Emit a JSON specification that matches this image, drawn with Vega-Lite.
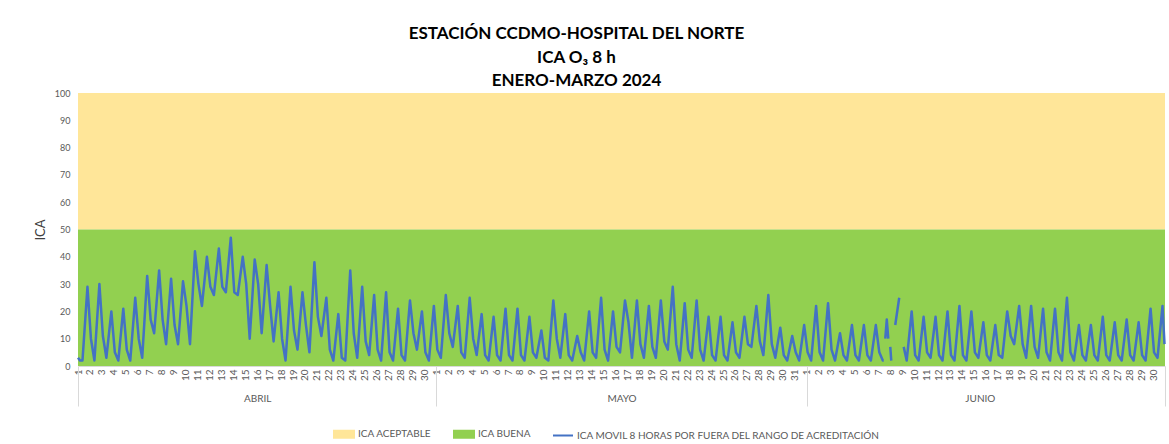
{
  "$schema": "https://vega.github.io/schema/vega-lite/v6.json",
  "width": 1087,
  "height": 273,
  "autosize": {"type": "none"},
  "padding": {"left": 78, "top": 93, "right": 4, "bottom": 78},
  "background": "#ffffff",
  "config": {
    "view": {"stroke": null},
    "axisY": {
      "values": [0, 10, 20, 30, 40, 50, 60, 70, 80, 90, 100], "labelOverlap": false,
      "ticks": false, "domain": false, "grid": false,
      "labelFont": "Lato", "labelFontSize": 9, "labelColor": "#595959", "labelPadding": 8,
      "titleFont": "Lato", "titleFontSize": 13, "titleFontWeight": "normal",
      "titleColor": "#404040", "titlePadding": 7
    }
  },
  "title": {
    "text": ["ESTACIÓN CCDMO-HOSPITAL DEL NORTE", "ICA O₃ 8 h", "ENERO-MARZO 2024"],
    "font": "Lato", "fontSize": 17, "fontWeight": "bold", "color": "#000000",
    "lineHeight": 23.5, "anchor": "middle", "dx": -45, "offset": -1
  },
  "datasets": {
    "bandas": [
      {"banda": "ICA ACEPTABLE", "y0": 50, "y1": 100},
      {"banda": "ICA BUENA", "y0": 0, "y1": 50}
    ],
    "meses": [
      {"inicio": "2024-04-01T00:00", "centro": "2024-04-16T00:00"},
      {"inicio": "2024-05-01T00:00", "centro": "2024-05-16T12:00"},
      {"inicio": "2024-06-01T00:00", "centro": "2024-06-15T12:00"}
    ],
    "ica": [
      {"t":"2024-04-01T00:00","v":3},{"t":"2024-04-01T04:00","v":2},{"t":"2024-04-01T09:00","v":2},{"t":"2024-04-01T19:00","v":29},
      {"t":"2024-04-02T02:00","v":10},{"t":"2024-04-02T09:00","v":2},{"t":"2024-04-02T19:00","v":30},
      {"t":"2024-04-03T02:00","v":11},{"t":"2024-04-03T09:00","v":3},{"t":"2024-04-03T19:00","v":20},
      {"t":"2024-04-04T02:00","v":5},{"t":"2024-04-04T09:00","v":2},{"t":"2024-04-04T19:00","v":21},
      {"t":"2024-04-05T02:00","v":6},{"t":"2024-04-05T09:00","v":2},{"t":"2024-04-05T19:00","v":25},
      {"t":"2024-04-06T02:00","v":10},{"t":"2024-04-06T09:00","v":3},{"t":"2024-04-06T19:00","v":33},
      {"t":"2024-04-07T02:00","v":17},{"t":"2024-04-07T09:00","v":12},{"t":"2024-04-07T19:00","v":35},
      {"t":"2024-04-08T02:00","v":17},{"t":"2024-04-08T09:00","v":8},{"t":"2024-04-08T19:00","v":32},
      {"t":"2024-04-09T02:00","v":15},{"t":"2024-04-09T09:00","v":8},{"t":"2024-04-09T19:00","v":31},
      {"t":"2024-04-10T02:00","v":22},{"t":"2024-04-10T09:00","v":8},{"t":"2024-04-10T19:00","v":42},
      {"t":"2024-04-11T02:00","v":30},{"t":"2024-04-11T09:00","v":22},{"t":"2024-04-11T19:00","v":40},
      {"t":"2024-04-12T02:00","v":29},{"t":"2024-04-12T09:00","v":26},{"t":"2024-04-12T19:00","v":43},
      {"t":"2024-04-13T02:00","v":29},{"t":"2024-04-13T09:00","v":27},{"t":"2024-04-13T19:00","v":47},
      {"t":"2024-04-14T02:00","v":27},{"t":"2024-04-14T09:00","v":26},{"t":"2024-04-14T19:00","v":40},
      {"t":"2024-04-15T02:00","v":30},{"t":"2024-04-15T09:00","v":10},{"t":"2024-04-15T19:00","v":39},
      {"t":"2024-04-16T02:00","v":30},{"t":"2024-04-16T09:00","v":12},{"t":"2024-04-16T19:00","v":37},
      {"t":"2024-04-17T02:00","v":22},{"t":"2024-04-17T09:00","v":9},{"t":"2024-04-17T19:00","v":27},
      {"t":"2024-04-18T02:00","v":10},{"t":"2024-04-18T09:00","v":2},{"t":"2024-04-18T19:00","v":29},
      {"t":"2024-04-19T02:00","v":13},{"t":"2024-04-19T09:00","v":6},{"t":"2024-04-19T19:00","v":27},
      {"t":"2024-04-20T02:00","v":15},{"t":"2024-04-20T09:00","v":5},{"t":"2024-04-20T19:00","v":38},
      {"t":"2024-04-21T02:00","v":18},{"t":"2024-04-21T09:00","v":11},{"t":"2024-04-21T19:00","v":25},
      {"t":"2024-04-22T02:00","v":6},{"t":"2024-04-22T09:00","v":2},{"t":"2024-04-22T19:00","v":19},
      {"t":"2024-04-23T02:00","v":3},{"t":"2024-04-23T09:00","v":2},{"t":"2024-04-23T19:00","v":35},
      {"t":"2024-04-24T02:00","v":12},{"t":"2024-04-24T09:00","v":3},{"t":"2024-04-24T19:00","v":29},
      {"t":"2024-04-25T02:00","v":9},{"t":"2024-04-25T09:00","v":4},{"t":"2024-04-25T19:00","v":26},
      {"t":"2024-04-26T02:00","v":6},{"t":"2024-04-26T09:00","v":2},{"t":"2024-04-26T19:00","v":27},
      {"t":"2024-04-27T02:00","v":5},{"t":"2024-04-27T09:00","v":2},{"t":"2024-04-27T19:00","v":21},
      {"t":"2024-04-28T02:00","v":4},{"t":"2024-04-28T09:00","v":2},{"t":"2024-04-28T19:00","v":24},
      {"t":"2024-04-29T02:00","v":12},{"t":"2024-04-29T09:00","v":6},{"t":"2024-04-29T19:00","v":20},
      {"t":"2024-04-30T02:00","v":5},{"t":"2024-04-30T09:00","v":2},{"t":"2024-04-30T19:00","v":22},
      {"t":"2024-05-01T02:00","v":6},{"t":"2024-05-01T09:00","v":3},{"t":"2024-05-01T19:00","v":26},
      {"t":"2024-05-02T02:00","v":12},{"t":"2024-05-02T09:00","v":7},{"t":"2024-05-02T19:00","v":22},
      {"t":"2024-05-03T02:00","v":5},{"t":"2024-05-03T09:00","v":3},{"t":"2024-05-03T19:00","v":25},
      {"t":"2024-05-04T02:00","v":10},{"t":"2024-05-04T09:00","v":4},{"t":"2024-05-04T19:00","v":19},
      {"t":"2024-05-05T02:00","v":4},{"t":"2024-05-05T09:00","v":2},{"t":"2024-05-05T19:00","v":18},
      {"t":"2024-05-06T02:00","v":4},{"t":"2024-05-06T09:00","v":2},{"t":"2024-05-06T19:00","v":21},
      {"t":"2024-05-07T02:00","v":4},{"t":"2024-05-07T09:00","v":2},{"t":"2024-05-07T19:00","v":21},
      {"t":"2024-05-08T02:00","v":4},{"t":"2024-05-08T09:00","v":2},{"t":"2024-05-08T19:00","v":18},
      {"t":"2024-05-09T02:00","v":5},{"t":"2024-05-09T09:00","v":3},{"t":"2024-05-09T19:00","v":13},
      {"t":"2024-05-10T02:00","v":3},{"t":"2024-05-10T09:00","v":2},{"t":"2024-05-10T19:00","v":24},
      {"t":"2024-05-11T02:00","v":10},{"t":"2024-05-11T09:00","v":3},{"t":"2024-05-11T19:00","v":19},
      {"t":"2024-05-12T02:00","v":4},{"t":"2024-05-12T09:00","v":2},{"t":"2024-05-12T19:00","v":11},
      {"t":"2024-05-13T02:00","v":5},{"t":"2024-05-13T09:00","v":2},{"t":"2024-05-13T19:00","v":20},
      {"t":"2024-05-14T02:00","v":5},{"t":"2024-05-14T09:00","v":3},{"t":"2024-05-14T19:00","v":25},
      {"t":"2024-05-15T02:00","v":6},{"t":"2024-05-15T09:00","v":2},{"t":"2024-05-15T19:00","v":20},
      {"t":"2024-05-16T02:00","v":7},{"t":"2024-05-16T09:00","v":5},{"t":"2024-05-16T19:00","v":24},
      {"t":"2024-05-17T02:00","v":16},{"t":"2024-05-17T09:00","v":3},{"t":"2024-05-17T19:00","v":24},
      {"t":"2024-05-18T02:00","v":8},{"t":"2024-05-18T09:00","v":3},{"t":"2024-05-18T19:00","v":22},
      {"t":"2024-05-19T02:00","v":7},{"t":"2024-05-19T09:00","v":3},{"t":"2024-05-19T19:00","v":24},
      {"t":"2024-05-20T02:00","v":9},{"t":"2024-05-20T09:00","v":6},{"t":"2024-05-20T19:00","v":29},
      {"t":"2024-05-21T02:00","v":8},{"t":"2024-05-21T09:00","v":2},{"t":"2024-05-21T19:00","v":23},
      {"t":"2024-05-22T02:00","v":6},{"t":"2024-05-22T09:00","v":3},{"t":"2024-05-22T19:00","v":24},
      {"t":"2024-05-23T02:00","v":6},{"t":"2024-05-23T09:00","v":2},{"t":"2024-05-23T19:00","v":18},
      {"t":"2024-05-24T02:00","v":4},{"t":"2024-05-24T09:00","v":2},{"t":"2024-05-24T19:00","v":18},
      {"t":"2024-05-25T02:00","v":4},{"t":"2024-05-25T09:00","v":2},{"t":"2024-05-25T19:00","v":16},
      {"t":"2024-05-26T02:00","v":5},{"t":"2024-05-26T09:00","v":3},{"t":"2024-05-26T19:00","v":18},
      {"t":"2024-05-27T02:00","v":8},{"t":"2024-05-27T09:00","v":7},{"t":"2024-05-27T19:00","v":22},
      {"t":"2024-05-28T02:00","v":9},{"t":"2024-05-28T09:00","v":4},{"t":"2024-05-28T19:00","v":26},
      {"t":"2024-05-29T02:00","v":8},{"t":"2024-05-29T09:00","v":3},{"t":"2024-05-29T19:00","v":14},
      {"t":"2024-05-30T02:00","v":4},{"t":"2024-05-30T09:00","v":2},{"t":"2024-05-30T19:00","v":11},
      {"t":"2024-05-31T02:00","v":5},{"t":"2024-05-31T09:00","v":2},{"t":"2024-05-31T19:00","v":15},
      {"t":"2024-06-01T02:00","v":5},{"t":"2024-06-01T09:00","v":2},{"t":"2024-06-01T19:00","v":22},
      {"t":"2024-06-02T02:00","v":5},{"t":"2024-06-02T09:00","v":2},{"t":"2024-06-02T19:00","v":23},
      {"t":"2024-06-03T02:00","v":6},{"t":"2024-06-03T09:00","v":2},{"t":"2024-06-03T19:00","v":12},
      {"t":"2024-06-04T02:00","v":4},{"t":"2024-06-04T09:00","v":2},{"t":"2024-06-04T19:00","v":15},
      {"t":"2024-06-05T02:00","v":4},{"t":"2024-06-05T09:00","v":2},{"t":"2024-06-05T19:00","v":15},
      {"t":"2024-06-06T02:00","v":4},{"t":"2024-06-06T09:00","v":2},{"t":"2024-06-06T19:00","v":15},
      {"t":"2024-06-07T02:00","v":5},{"t":"2024-06-07T09:00","v":2},{"t":"2024-06-07T11:00","v":2},{"t":"2024-06-07T12:00","v":null},
      {"t":"2024-06-07T14:00","v":10},{"t":"2024-06-07T17:00","v":17},{"t":"2024-06-07T20:00","v":10},{"t":"2024-06-07T21:00","v":null},
      {"t":"2024-06-08T00:00","v":7},{"t":"2024-06-08T02:00","v":2},{"t":"2024-06-08T03:00","v":null},
      {"t":"2024-06-08T10:00","v":15},{"t":"2024-06-08T18:00","v":25},{"t":"2024-06-08T19:00","v":null},
      {"t":"2024-06-09T03:00","v":7},{"t":"2024-06-09T09:00","v":2},{"t":"2024-06-09T19:00","v":20},
      {"t":"2024-06-10T02:00","v":4},{"t":"2024-06-10T09:00","v":2},{"t":"2024-06-10T19:00","v":18},
      {"t":"2024-06-11T02:00","v":5},{"t":"2024-06-11T09:00","v":3},{"t":"2024-06-11T19:00","v":18},
      {"t":"2024-06-12T02:00","v":4},{"t":"2024-06-12T09:00","v":2},{"t":"2024-06-12T19:00","v":20},
      {"t":"2024-06-13T02:00","v":4},{"t":"2024-06-13T09:00","v":2},{"t":"2024-06-13T19:00","v":22},
      {"t":"2024-06-14T02:00","v":4},{"t":"2024-06-14T09:00","v":2},{"t":"2024-06-14T19:00","v":20},
      {"t":"2024-06-15T02:00","v":5},{"t":"2024-06-15T09:00","v":3},{"t":"2024-06-15T19:00","v":16},
      {"t":"2024-06-16T02:00","v":4},{"t":"2024-06-16T09:00","v":2},{"t":"2024-06-16T19:00","v":15},
      {"t":"2024-06-17T02:00","v":4},{"t":"2024-06-17T09:00","v":3},{"t":"2024-06-17T19:00","v":20},
      {"t":"2024-06-18T02:00","v":11},{"t":"2024-06-18T09:00","v":8},{"t":"2024-06-18T19:00","v":22},
      {"t":"2024-06-19T02:00","v":8},{"t":"2024-06-19T09:00","v":3},{"t":"2024-06-19T19:00","v":22},
      {"t":"2024-06-20T02:00","v":7},{"t":"2024-06-20T09:00","v":3},{"t":"2024-06-20T19:00","v":21},
      {"t":"2024-06-21T02:00","v":5},{"t":"2024-06-21T09:00","v":2},{"t":"2024-06-21T19:00","v":21},
      {"t":"2024-06-22T02:00","v":5},{"t":"2024-06-22T09:00","v":2},{"t":"2024-06-22T19:00","v":25},
      {"t":"2024-06-23T02:00","v":5},{"t":"2024-06-23T09:00","v":2},{"t":"2024-06-23T19:00","v":15},
      {"t":"2024-06-24T02:00","v":4},{"t":"2024-06-24T09:00","v":2},{"t":"2024-06-24T19:00","v":15},
      {"t":"2024-06-25T02:00","v":4},{"t":"2024-06-25T09:00","v":2},{"t":"2024-06-25T19:00","v":18},
      {"t":"2024-06-26T02:00","v":4},{"t":"2024-06-26T09:00","v":2},{"t":"2024-06-26T19:00","v":16},
      {"t":"2024-06-27T02:00","v":4},{"t":"2024-06-27T09:00","v":2},{"t":"2024-06-27T19:00","v":17},
      {"t":"2024-06-28T02:00","v":4},{"t":"2024-06-28T09:00","v":2},{"t":"2024-06-28T19:00","v":16},
      {"t":"2024-06-29T02:00","v":4},{"t":"2024-06-29T09:00","v":2},{"t":"2024-06-29T19:00","v":21},
      {"t":"2024-06-30T02:00","v":5},{"t":"2024-06-30T09:00","v":3},{"t":"2024-06-30T19:00","v":22},{"t":"2024-06-30T23:00","v":8}
    ]
  },
  "layer": [
    {
      "data": {"name": "bandas"},
      "mark": {"type": "rect"},
      "encoding": {
        "y": {
          "field": "y0", "type": "quantitative",
          "scale": {"domain": [0, 100], "nice": false},
          "axis": {"title": "ICA", "values": [0, 10, 20, 30, 40, 50, 60, 70, 80, 90, 100], "labelOverlap": false}
        },
        "y2": {"field": "y1"},
        "color": {
          "field": "banda", "type": "nominal",
          "scale": {
            "domain": ["ICA ACEPTABLE", "ICA BUENA", "ICA MOVIL 8 HORAS POR FUERA DEL RANGO DE ACREDITACIÓN"],
            "range": ["#FFE699", "#92D050", "#4472C4"]
          },
          "legend": {
            "orient": "none", "direction": "horizontal", "columns": 3,
            "legendX": 255, "legendY": 330, "title": null,
            "labelFont": "Lato", "labelFontSize": 10, "labelColor": "#595959", "labelLimit": 500,
            "symbolSize": 400, "columnPadding": 18, "labelOffset": 3,
            "encode": {
              "symbols": {
                "update": {
                  "shape": {"signal": "datum.index === 2 ? 'M-1,0H1' : 'M-1,-0.35H1V0.35H-1Z'"},
                  "fill": {"signal": "datum.index === 2 ? 'transparent' : scale('color', datum.value)"},
                  "stroke": {"signal": "datum.index === 2 ? scale('color', datum.value) : 'transparent'"},
                  "strokeWidth": {"value": 2},
                  "opacity": {"value": 1},
                  "fillOpacity": {"value": 1}
                }
              }
            }
          }
        }
      }
    },
    {
      "data": {"name": "ica"},
      "mark": {"type": "line", "strokeWidth": 2.5, "strokeJoin": "round", "invalid": "break-paths-show-domains"},
      "encoding": {
        "x": {
          "field": "t", "type": "temporal",
          "scale": {"domain": [{"year": 2024, "month": 4, "date": 1}, {"year": 2024, "month": 7, "date": 1}]},
          "axis": {
            "orient": "bottom",
            "format": "%-d", "tickCount": {"interval": "day", "step": 1},
            "labelExpr": "month(datum.value) == 6 ? '' : datum.label",
            "labelAngle": -90, "labelFont": "Lato", "labelFontSize": 10, "labelColor": "#595959",
            "labelOverlap": false, "labelFlush": false, "labelPadding": 3,
            "ticks": false, "domain": true, "domainColor": "#d9d9d9", "grid": false, "title": null
          }
        },
        "y": {
          "field": "v", "type": "quantitative",
          "axis": {"title": "ICA", "values": [0, 10, 20, 30, 40, 50, 60, 70, 80, 90, 100], "labelOverlap": false}
        },
        "color": {"datum": "ICA MOVIL 8 HORAS POR FUERA DEL RANGO DE ACREDITACIÓN"}
      }
    },
    {
      "data": {"name": "meses"},
      "mark": {"type": "rule", "opacity": 0},
      "encoding": {
        "x": {
          "field": "inicio", "type": "temporal",
          "scale": {"domain": [{"year": 2024, "month": 4, "date": 1}, {"year": 2024, "month": 7, "date": 1}]},
          "axis": {
            "orient": "bottom",
            "values": [
              {"year": 2024, "month": 4, "date": 1},
              {"year": 2024, "month": 5, "date": 1},
              {"year": 2024, "month": 6, "date": 1},
              {"year": 2024, "month": 7, "date": 1}
            ],
            "labels": false, "ticks": true, "tickSize": 40, "tickColor": "#d9d9d9", "tickWidth": 1,
            "domain": false, "grid": false, "title": null
          }
        }
      }
    },
    {
      "data": {"name": "meses"},
      "mark": {"type": "rule", "opacity": 0},
      "encoding": {
        "x": {
          "field": "centro", "type": "temporal",
          "scale": {"domain": [{"year": 2024, "month": 4, "date": 1}, {"year": 2024, "month": 7, "date": 1}]},
          "axis": {
            "orient": "bottom",
            "values": [
              {"year": 2024, "month": 4, "date": 16},
              {"year": 2024, "month": 5, "date": 16, "hours": 12},
              {"year": 2024, "month": 6, "date": 15, "hours": 12}
            ],
            "labelExpr": "['ENERO','FEBRERO','MARZO','ABRIL','MAYO','JUNIO'][month(datum.value)]",
            "labelAngle": 0, "labelFont": "Lato", "labelFontSize": 10, "labelColor": "#595959",
            "labelPadding": 27, "labelFlush": false, "labelOverlap": false,
            "ticks": false, "domain": false, "grid": false, "title": null
          }
        }
      }
    }
  ],
  "resolve": {"axis": {"x": "independent"}}
}
